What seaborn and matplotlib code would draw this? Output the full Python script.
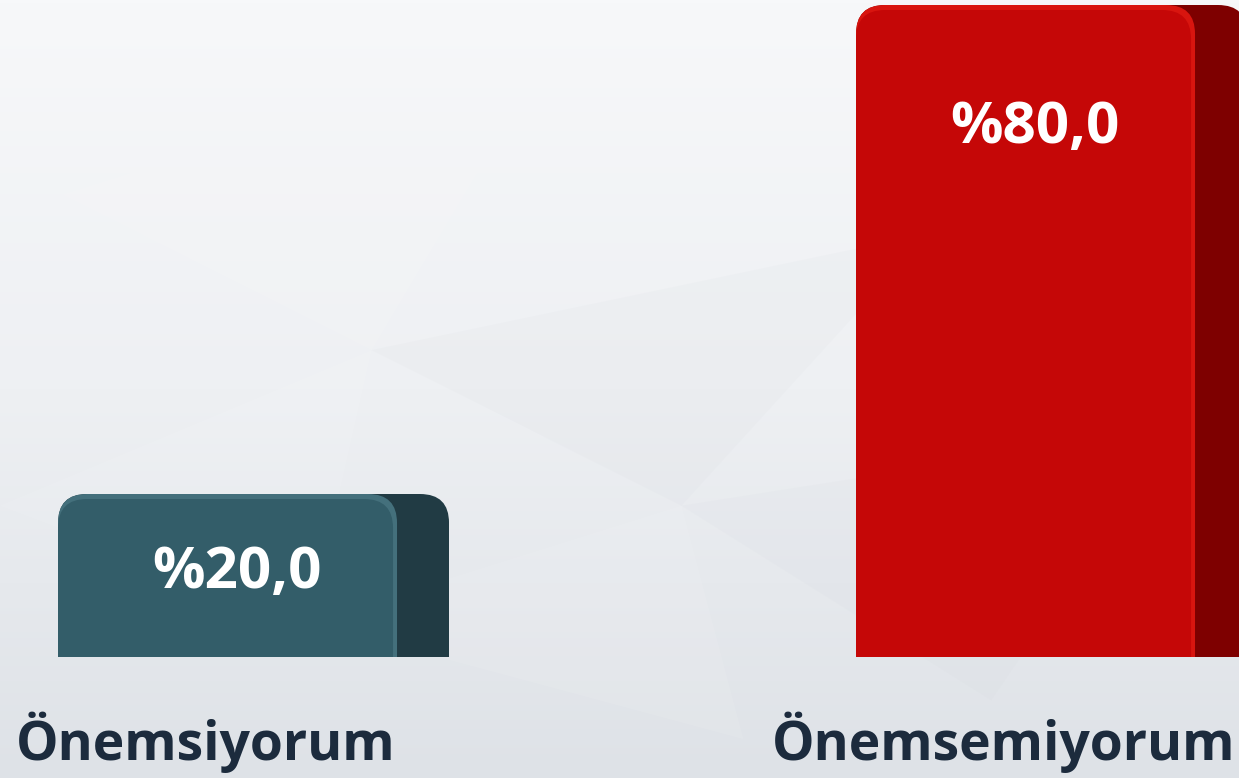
import numpy as np
import matplotlib
matplotlib.use("Agg")
import matplotlib.pyplot as plt
import seaborn as sns
from matplotlib.patches import FancyBboxPatch, Polygon

# data
categories = ["Önemsiyorum", "Önemsemiyorum"]
values = [20.0, 80.0]
value_labels = ["%20,0", "%80,0"]

# styles
front_colors = ["#335D69", "#C50707"]
side_colors = ["#213B44", "#7E0000"]
light_colors = ["#44707C", "#D8150F"]
label_drop = [11.5, 16.9]   # baseline of value text below bar top (data units)

sns.set_theme(style="white")
plt.rcParams["font.family"] = ["Open Sans", "DejaVu Sans"]

W, H = 1239, 778
fig = plt.figure(figsize=(W / 100, H / 100), dpi=100)

# background gradient + faint facets
bg = fig.add_axes([0, 0, 1, 1], zorder=0)
grad = np.linspace(0, 1, 256).reshape(-1, 1)
cmap = matplotlib.colors.LinearSegmentedColormap.from_list("bg", ["#F7F8FA", "#EEF0F3", "#DEE2E7"])
bg.imshow(grad, aspect="auto", cmap=cmap, extent=[0, 1, 0, 1], origin="upper")
facets = [
    [(0.05, 0.75), (0.45, 0.95), (0.30, 0.55)],
    [(0.30, 0.55), (0.75, 0.70), (0.55, 0.35)],
    [(0.0, 0.35), (0.30, 0.55), (0.25, 0.20)],
    [(0.55, 0.35), (0.95, 0.45), (0.80, 0.10)],
    [(0.25, 0.20), (0.55, 0.35), (0.60, 0.05)],
]
for i, f in enumerate(facets):
    bg.add_patch(Polygon(f, closed=True, facecolor="white" if i % 2 == 0 else "#C9CED6",
                         alpha=0.08, edgecolor="none"))
bg.set_xlim(0, 1)
bg.set_ylim(0, 1)
bg.axis("off")

ax = fig.add_axes([0, 0, 1, 1], zorder=1)
ax.patch.set_alpha(0)

sns.barplot(x=categories, y=values, hue=categories, palette=front_colors,
            width=0.49, legend=False, ax=ax, saturation=1)

xlim = (-0.3177, -0.3177 + W / 798)
ylim = (-121 / 8.15, 80 + 5 / 8.15)
ax.set_xlim(*xlim)
ax.set_ylim(*ylim)
ax.axis("off")

px_x = W / (xlim[1] - xlim[0])
px_y = H / (ylim[1] - ylim[0])
aspect = px_x / px_y
r = 29 / px_x

for i, patch in enumerate(ax.patches):
    x0, w, h = patch.get_x(), patch.get_width(), patch.get_height()
    patch.set_facecolor("none")
    patch.set_edgecolor("none")
    ext = 10
    fw = w * 0.867
    shapes = [
        (x0, w, h, side_colors[i]),
        (x0, fw, h, light_colors[i]),
        (x0, fw - 4 / px_x, h - 5 / px_y, front_colors[i]),
    ]
    for sx, sw, sh, col in shapes:
        p = FancyBboxPatch((sx, -ext), sw, sh + ext,
                           boxstyle=f"round,pad=0,rounding_size={r}",
                           mutation_aspect=aspect, facecolor=col, edgecolor="none",
                           zorder=2)
        ax.add_patch(p)
        p.set_clip_path(patch)
    cx = x0 + w / 2
    ax.text(cx - 0.021, h - label_drop[i], value_labels[i], ha="center", va="baseline",
            color="white", fontsize=42, fontweight="bold", zorder=3)
    ax.text(cx - 0.06, -12.64, categories[i], ha="center", va="baseline",
            color="#1C2B3D", fontsize=38.5, fontweight="bold", zorder=3)

fig.savefig("out.png", dpi=100)
